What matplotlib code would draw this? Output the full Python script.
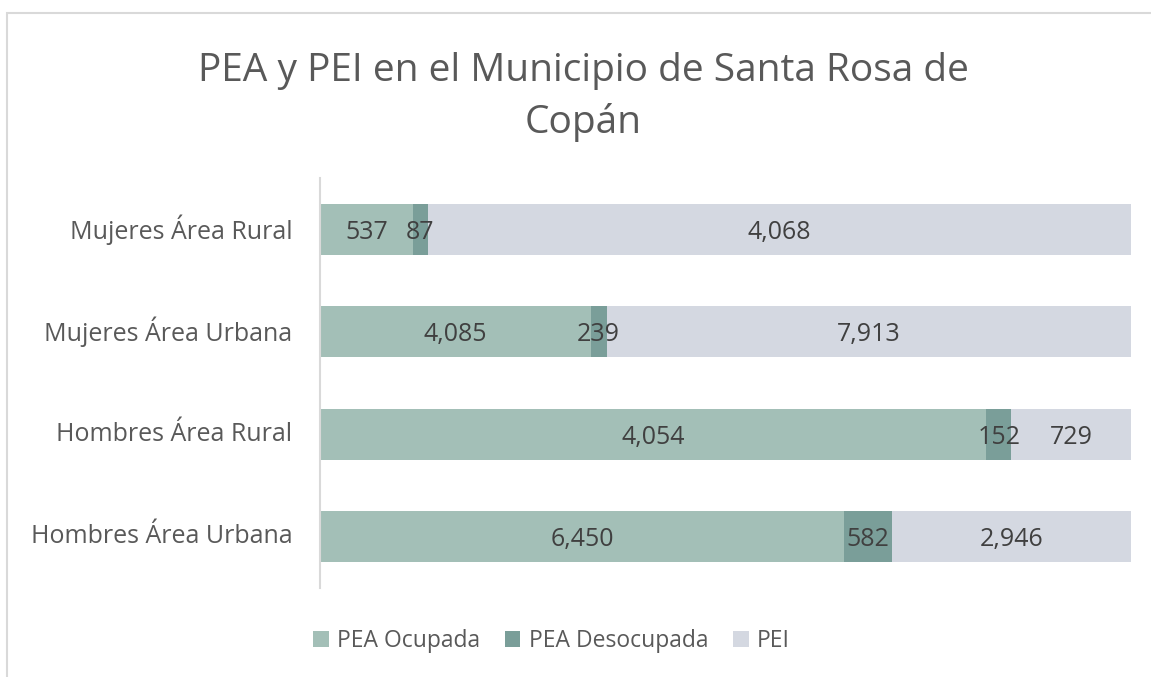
import numpy as np
import matplotlib.pyplot as plt
from matplotlib.patches import Rectangle

plt.rcParams['font.family'] = ['Open Sans', 'DejaVu Sans']

categorias = ['Hombres Área Urbana', 'Hombres Área Rural',
              'Mujeres Área Urbana', 'Mujeres Área Rural']
pea_ocupada = [6450, 4054, 4085, 537]
pea_desocupada = [582, 152, 239, 87]
pei = [2946, 729, 7913, 4068]

series = ['PEA Ocupada', 'PEA Desocupada', 'PEI']
colores = ['#A3BFB7', '#7A9E99', '#D4D8E1']

datos = np.array([pea_ocupada, pea_desocupada, pei], dtype=float)
totales = datos.sum(axis=0)
pct = datos / totales

fig = plt.figure(figsize=(11.51, 6.77), dpi=100)
ax = fig.add_axes([0.278, 0.1315, 0.7048, 0.6055])

# marco gris del grafico
fig.patches.append(Rectangle((7 / 1151, -0.01), 1.1, (677 - 13.5) / 677 + 0.01,
                             transform=fig.transFigure, fill=False,
                             edgecolor='#D9D9D9', linewidth=1.5))

y = np.arange(len(categorias))
izq = np.zeros(len(categorias))
for i in range(3):
    ax.barh(y, pct[i], left=izq, height=0.5, color=colores[i], label=series[i])
    for j in range(len(categorias)):
        ax.text(izq[j] + pct[i][j] / 2, y[j], f'{int(datos[i][j]):,}',
                ha='center', va='center_baseline', fontsize=18, color='#404040')
    izq += pct[i]

ax.set_xlim(0, 1)
ax.set_ylim(-0.5, 3.5)
ax.set_yticks(y)
ax.set_yticklabels(categorias, fontsize=18, color='#595959', va='center')
ax.tick_params(axis='y', length=0, pad=20)
ax.set_xticks([])
for s in ['top', 'right', 'bottom']:
    ax.spines[s].set_visible(False)
ax.spines['left'].set_color('#D9D9D9')
ax.spines['left'].set_linewidth(1.5)

fig.text(0.507, 0.857, 'PEA y PEI en el Municipio de Santa Rosa de\nCopán',
         ha='center', va='center', fontsize=28, color='#595959',
         linespacing=1.45)

fig.legend(loc='center', bbox_to_anchor=(0.479, 0.053), ncol=3, frameon=False,
           fontsize=16.5, labelcolor='#595959', handlelength=0.68,
           handleheight=0.68, handletextpad=0.35, columnspacing=1.1)

fig.savefig('out.png', dpi=100)
